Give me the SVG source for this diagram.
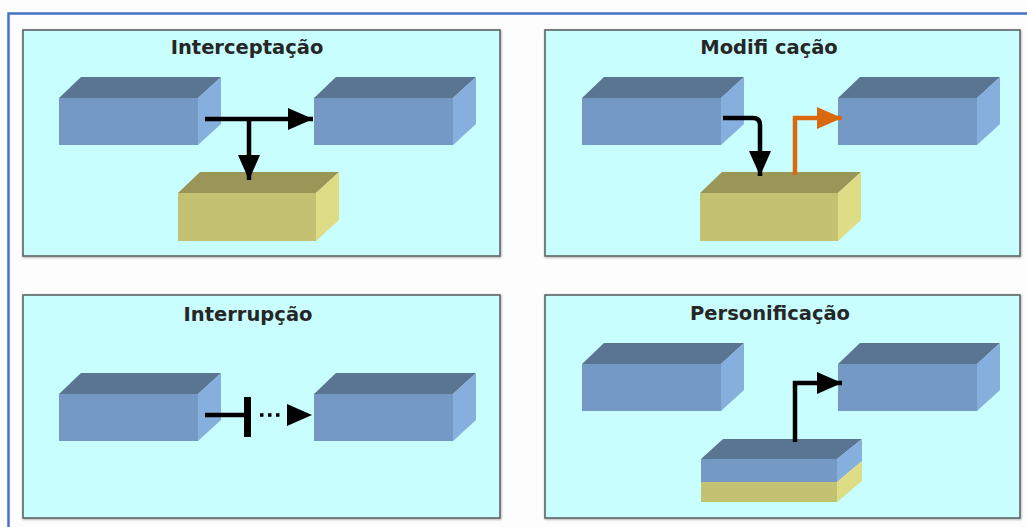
<svg xmlns="http://www.w3.org/2000/svg" xmlns:xlink="http://www.w3.org/1999/xlink" width="1027" height="527" viewBox="0 0 1027 527">
<style>
.panel{fill:#C8FEFE;stroke:#5E6464;stroke-width:1.6;filter:url(#sh)}
.title{font-family:"DejaVu Sans","Liberation Sans",sans-serif;font-weight:bold;font-size:19.5px;fill:#262626;text-anchor:middle}
.bf{fill:#7399C4}.bt{fill:#5A7591}.br{fill:#86AFDE}
.yf{fill:#C3C272}.yt{fill:#999658}.yr{fill:#DEDC84}
.ln{fill:none;stroke:#000;stroke-width:4.5}
.or{fill:none;stroke:#D9690E;stroke-width:4.5}
</style>
<defs>
<filter id="sh" x="-5%" y="-5%" width="110%" height="110%">
<feDropShadow dx="0.5" dy="0.8" stdDeviation="1.2" flood-color="#000" flood-opacity="0.35"/>
</filter>
<marker id="ah" markerUnits="userSpaceOnUse" markerWidth="25" markerHeight="22" refX="25" refY="11" orient="auto">
<path d="M0,0 L25,11 L0,22 z" fill="#000"/>
</marker>
<marker id="aho" markerUnits="userSpaceOnUse" markerWidth="25" markerHeight="22" refX="25" refY="11" orient="auto">
<path d="M0,0 L25,11 L0,22 z" fill="#D9690E"/>
</marker>
<g id="bluebox">
<polygon class="bt" points="0,0 22,-21 162,-21 139,0"/>
<polygon class="br" points="139,0 162,-21 162,26 139,47"/>
<rect class="bf" x="0" y="0" width="139" height="47"/>
</g>
<g id="yellowbox">
<polygon class="yt" points="0,0 22,-21 161,-21 138,0"/>
<polygon class="yr" points="138,0 161,-21 161,27 138,48"/>
<rect class="yf" x="0" y="0" width="138" height="48"/>
</g>
</defs>
<rect width="1027" height="527" fill="#FDFDFD"/>
<path d="M8.5,527 V13.5 H1027" fill="none" stroke="#4472C4" stroke-width="2.5"/>

<g id="panel-interceptacao">
<rect class="panel" x="23" y="30" width="477" height="226"/>
<text class="title" x="247" y="54">Interceptação</text>
<use id="p1-src" xlink:href="#bluebox" x="59" y="98"/>
<use id="p1-dst" xlink:href="#bluebox" x="314" y="98"/>
<use id="p1-int" xlink:href="#yellowbox" x="178" y="193"/>
</g>

<g id="panel-modificacao">
<rect class="panel" x="545" y="30" width="475" height="226"/>
<text class="title" x="769" y="54">Modifi cação</text>
<use id="p2-src" xlink:href="#bluebox" x="582" y="98"/>
<use id="p2-dst" xlink:href="#bluebox" x="838" y="98"/>
<use id="p2-mod" xlink:href="#yellowbox" x="700" y="193"/>
</g>

<g id="panel-interrupcao">
<rect class="panel" x="23" y="295" width="477" height="223"/>
<text class="title" x="248" y="321">Interrupção</text>
<use id="p3-src" xlink:href="#bluebox" x="59" y="394"/>
<use id="p3-dst" xlink:href="#bluebox" x="314" y="394"/>
</g>

<g id="panel-personificacao">
<rect class="panel" x="545" y="295" width="475" height="223"/>
<text class="title" x="770" y="320">Personificação</text>
<use id="p4-src" xlink:href="#bluebox" x="582" y="364"/>
<use id="p4-dst" xlink:href="#bluebox" x="838" y="364"/>
<g id="p4-fake">
<polygon class="bt" points="701,459 723,439 862,439 837,459"/>
<polygon class="br" points="837,459 862,439 862,461 837,482"/>
<polygon class="yr" points="837,482 862,461 862,481 837,502"/>
<rect class="bf" x="701" y="459" width="136" height="23"/>
<rect class="yf" x="701" y="482" width="136" height="20"/>
</g>
</g>

<g id="connectors">
<line class="ln" x1="205" y1="119" x2="313" y2="119" marker-end="url(#ah)"/>
<line class="ln" x1="249" y1="119" x2="249" y2="180" marker-end="url(#ah)"/>
<path class="ln" d="M723,118 H753 Q760,118 760,125 V176" marker-end="url(#ah)"/>
<path class="or" d="M795,175 V118 H842" marker-end="url(#aho)"/>
<line class="ln" x1="205" y1="415" x2="246" y2="415"/>
<rect x="244" y="397" width="7" height="40" fill="#000"/>
<line x1="260" y1="415" x2="281" y2="415" stroke="#000" stroke-width="3.5" stroke-dasharray="3.5 4.5"/>
<line x1="286" y1="415" x2="312" y2="415" stroke="none" marker-end="url(#ah)"/>
<path class="ln" d="M795,442 V383 H842" marker-end="url(#ah)"/>
</g>
</svg>
